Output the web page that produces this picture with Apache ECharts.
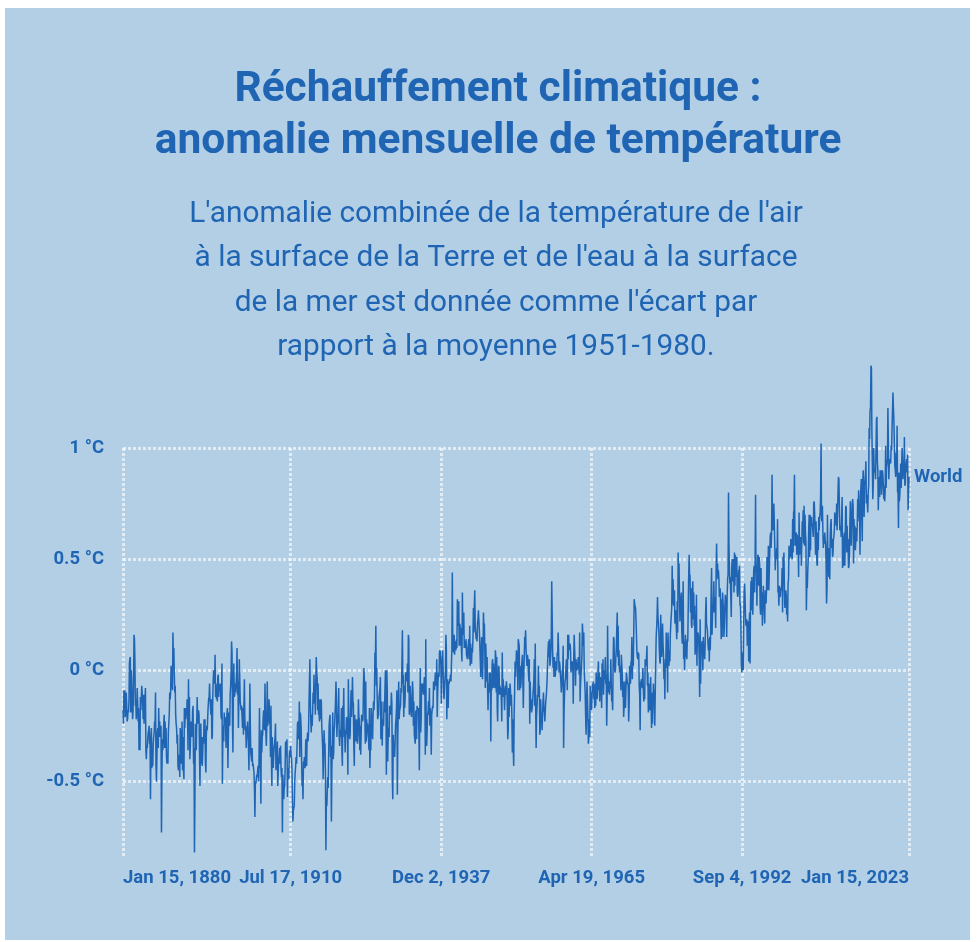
<!DOCTYPE html>
<html><head><meta charset="utf-8">
<script src="https://cdn.jsdelivr.net/npm/echarts@6/dist/echarts.min.js"></script>
<style>
html,body{margin:0;padding:0;background:#ffffff;}
#panel{position:absolute;left:5px;top:8px;width:965px;height:932px;background:#b3cfe6;}
#c{position:absolute;left:0;top:0;width:980px;height:942px;}
</style>
</head><body><div id="panel"></div><div id="c"></div>
<script>
// Monthly anomalies (°C), one row per year, Jan..Dec
const d1880s = [
-0.18,-0.24,-0.09,-0.16,-0.09,-0.21,-0.18,-0.10,-0.15,-0.23,-0.22,-0.18,
-0.19,-0.14,0.03,0.05,0.06,-0.19,0.00,-0.04,-0.16,-0.22,-0.18,-0.07,
0.16,0.14,0.05,-0.16,-0.14,-0.22,-0.16,-0.08,-0.15,-0.23,-0.17,-0.36,
-0.29,-0.36,-0.12,-0.18,-0.18,-0.07,-0.07,-0.14,-0.22,-0.11,-0.24,-0.11,
-0.13,-0.08,-0.36,-0.40,-0.34,-0.35,-0.31,-0.28,-0.27,-0.25,-0.33,-0.30,
-0.58,-0.29,-0.26,-0.44,-0.41,-0.43,-0.33,-0.30,-0.28,-0.23,-0.24,-0.10,
-0.43,-0.50,-0.40,-0.28,-0.26,-0.35,-0.17,-0.30,-0.23,-0.27,-0.30,-0.25,
-0.73,-0.45,-0.31,-0.36,-0.30,-0.24,-0.20,-0.35,-0.23,-0.35,-0.26,-0.39,
-0.42,-0.38,-0.42,-0.28,-0.28,-0.20,-0.10,-0.13,-0.10,0.02,-0.04,-0.06,
-0.09,0.17,0.06,0.10,-0.01,-0.10,-0.07,-0.20,-0.24,-0.26,-0.33,-0.29];
const d1890s = [
-0.43,-0.45,-0.41,-0.38,-0.48,-0.26,-0.29,-0.42,-0.37,-0.23,-0.45,-0.30,
-0.45,-0.49,-0.17,-0.26,-0.17,-0.22,-0.18,-0.20,-0.13,-0.22,-0.36,-0.04,
-0.27,-0.12,-0.40,-0.34,-0.25,-0.23,-0.30,-0.26,-0.18,-0.16,-0.42,-0.35,
-0.82,-0.56,-0.24,-0.32,-0.36,-0.23,-0.12,-0.24,-0.24,-0.18,-0.20,-0.37,
-0.52,-0.33,-0.24,-0.42,-0.30,-0.43,-0.38,-0.30,-0.33,-0.22,-0.28,-0.22,
-0.42,-0.46,-0.29,-0.25,-0.27,-0.21,-0.16,-0.13,-0.12,-0.06,-0.13,-0.13,
-0.20,-0.13,-0.31,-0.30,-0.12,-0.04,0.00,-0.04,-0.06,0.07,-0.12,-0.06,
-0.13,-0.11,-0.14,-0.03,-0.02,-0.12,-0.07,-0.09,-0.06,-0.07,-0.20,-0.22,
0.03,-0.51,-0.30,-0.25,-0.32,-0.19,-0.24,-0.21,-0.25,-0.35,-0.35,-0.19,
-0.17,-0.44,-0.31,-0.19,-0.23,-0.25,-0.11,-0.07,-0.01,0.13,0.08,-0.23];
const d1900s = [
-0.37,-0.10,0.03,-0.12,-0.11,-0.06,-0.10,-0.06,-0.01,0.10,-0.11,-0.05,
-0.26,-0.10,0.05,-0.04,-0.14,-0.16,-0.18,-0.16,-0.21,-0.26,-0.17,-0.29,
-0.16,-0.04,-0.21,-0.27,-0.25,-0.35,-0.26,-0.29,-0.23,-0.30,-0.35,-0.45,
-0.25,-0.06,-0.24,-0.37,-0.37,-0.41,-0.35,-0.43,-0.42,-0.44,-0.46,-0.53,
-0.66,-0.50,-0.51,-0.51,-0.47,-0.48,-0.45,-0.43,-0.50,-0.40,-0.17,-0.44,
-0.38,-0.60,-0.27,-0.37,-0.30,-0.29,-0.22,-0.18,-0.20,-0.27,-0.06,-0.19,
-0.29,-0.34,-0.25,-0.05,-0.25,-0.21,-0.20,-0.13,-0.24,-0.21,-0.39,-0.16,
-0.38,-0.52,-0.30,-0.37,-0.44,-0.39,-0.35,-0.33,-0.30,-0.24,-0.45,-0.40,
-0.42,-0.32,-0.52,-0.45,-0.40,-0.39,-0.35,-0.42,-0.34,-0.44,-0.48,-0.44,
-0.73,-0.47,-0.53,-0.58,-0.53,-0.52,-0.44,-0.32,-0.38,-0.39,-0.31,-0.57];
const d1910s = [
-0.44,-0.45,-0.49,-0.39,-0.36,-0.39,-0.34,-0.38,-0.40,-0.45,-0.59,-0.68,
-0.63,-0.63,-0.61,-0.50,-0.46,-0.43,-0.39,-0.42,-0.34,-0.24,-0.23,-0.31,
-0.28,-0.14,-0.39,-0.19,-0.21,-0.26,-0.40,-0.52,-0.50,-0.58,-0.41,-0.43,
-0.39,-0.44,-0.43,-0.31,-0.38,-0.43,-0.31,-0.28,-0.32,-0.29,-0.16,-0.06,
0.05,-0.13,-0.22,-0.28,-0.20,-0.25,-0.20,-0.10,-0.15,-0.02,-0.12,-0.11,
-0.20,-0.04,0.06,-0.01,-0.04,-0.18,-0.06,-0.20,-0.19,-0.23,-0.13,-0.22,
-0.13,-0.14,-0.25,-0.30,-0.35,-0.49,-0.38,-0.27,-0.34,-0.33,-0.46,-0.81,
-0.57,-0.61,-0.61,-0.48,-0.53,-0.39,-0.25,-0.22,-0.20,-0.39,-0.34,-0.68,
-0.45,-0.32,-0.19,-0.40,-0.37,-0.27,-0.25,-0.25,-0.14,-0.05,-0.13,-0.30,
-0.23,-0.24,-0.19,-0.08,-0.29,-0.34,-0.27,-0.30,-0.26,-0.17,-0.37,-0.43];
const d1920s = [
-0.16,-0.22,-0.08,-0.30,-0.27,-0.37,-0.29,-0.27,-0.21,-0.25,-0.30,-0.47,
-0.04,-0.21,-0.21,-0.31,-0.29,-0.17,-0.09,-0.21,-0.14,-0.03,-0.14,-0.15,
-0.35,-0.43,-0.20,-0.26,-0.32,-0.30,-0.22,-0.29,-0.33,-0.29,-0.13,-0.21,
-0.22,-0.36,-0.25,-0.38,-0.29,-0.20,-0.21,-0.23,-0.22,-0.06,0.01,-0.04,
-0.20,-0.33,-0.05,-0.32,-0.22,-0.26,-0.24,-0.29,-0.31,-0.36,-0.17,-0.44,
-0.34,-0.36,-0.17,-0.17,-0.26,-0.31,-0.20,-0.14,-0.18,-0.12,0.08,0.02,
0.20,-0.07,0.01,-0.12,-0.22,-0.21,-0.20,-0.12,-0.10,-0.08,-0.03,-0.31,
-0.22,-0.14,-0.34,-0.22,-0.24,-0.25,-0.14,-0.19,-0.08,0.00,-0.06,-0.47,
0.00,-0.09,-0.41,-0.29,-0.26,-0.30,-0.16,-0.18,-0.20,-0.17,-0.10,-0.15,
-0.49,-0.58,-0.29,-0.36,-0.33,-0.39,-0.33,-0.25,-0.22,-0.18,-0.09,-0.56];
const d1930s = [
-0.30,-0.15,-0.05,-0.22,-0.18,-0.18,-0.16,-0.08,-0.10,-0.10,0.18,-0.06,
-0.02,-0.21,-0.07,-0.17,-0.13,-0.01,-0.02,-0.01,-0.05,0.03,-0.10,0.16,
0.14,-0.20,-0.14,-0.07,-0.16,-0.20,-0.21,-0.12,-0.05,-0.09,-0.25,-0.14,
-0.29,-0.31,-0.33,-0.19,-0.18,-0.31,-0.16,-0.16,-0.18,-0.17,-0.28,-0.45,
-0.19,0.01,-0.28,-0.22,-0.06,-0.10,-0.06,-0.06,-0.11,-0.07,-0.03,-0.06,
-0.38,0.14,-0.24,-0.34,-0.28,-0.20,-0.19,-0.14,-0.20,-0.08,-0.25,-0.17,
-0.21,-0.38,-0.20,-0.18,-0.16,-0.17,-0.05,-0.07,-0.09,-0.05,-0.01,-0.05,
-0.07,0.05,-0.21,-0.11,-0.04,-0.01,-0.03,0.08,0.09,0.08,0.02,-0.15,
0.03,0.05,0.09,0.09,-0.10,-0.13,-0.08,-0.04,0.00,0.16,0.09,-0.22,
-0.04,-0.04,-0.17,-0.05,-0.06,-0.04,-0.05,-0.02,-0.05,0.02,0.09,0.44];
const d1940s = [
0.12,0.09,0.08,0.16,0.07,0.13,0.10,0.09,0.14,0.10,0.32,0.20,
0.21,0.31,0.11,0.21,0.20,0.11,0.19,0.09,0.04,0.35,0.17,0.16,
0.26,0.10,0.13,0.12,0.10,0.14,0.07,0.06,0.05,0.10,0.12,0.14,
0.05,0.20,0.02,0.12,0.08,0.03,0.10,0.08,0.14,0.28,0.17,0.29,
0.36,0.20,0.17,0.14,0.15,0.13,0.21,0.23,0.27,0.27,0.18,0.12,
0.12,-0.03,0.06,0.15,0.04,-0.04,0.05,0.26,0.19,0.21,0.07,-0.08,
0.12,0.05,-0.05,0.06,-0.08,-0.18,-0.06,-0.10,-0.01,-0.05,-0.01,-0.32,
-0.08,-0.09,0.03,0.05,-0.08,0.03,-0.04,-0.04,-0.08,0.09,0.06,-0.10,
0.06,-0.17,-0.23,-0.07,0.02,0.01,-0.11,-0.07,-0.09,-0.08,-0.13,-0.23,
0.08,-0.12,-0.04,-0.08,-0.09,-0.18,-0.11,-0.07,-0.11,-0.05,-0.07,-0.16];
const d1950s = [
-0.31,-0.27,-0.08,-0.21,-0.11,-0.06,-0.09,-0.16,-0.11,-0.20,-0.37,-0.22,
-0.35,-0.43,-0.20,-0.10,0.04,-0.03,0.02,0.09,0.05,0.08,-0.09,0.14,
0.14,0.11,-0.09,0.02,-0.08,-0.06,0.00,0.04,0.07,-0.04,-0.17,-0.03,
0.06,0.15,0.12,0.18,0.09,0.09,0.02,0.07,0.05,0.05,-0.05,0.05,
-0.24,-0.05,-0.15,-0.13,-0.19,-0.19,-0.16,-0.11,-0.08,-0.04,0.05,-0.16,
0.12,-0.18,-0.35,-0.21,-0.21,-0.11,-0.12,0.02,-0.11,-0.07,-0.29,-0.27,
-0.13,-0.23,-0.20,-0.27,-0.20,-0.14,-0.10,-0.17,-0.19,-0.23,-0.18,-0.14,
-0.12,-0.08,-0.04,0.03,0.09,0.13,0.06,0.14,0.02,0.04,0.07,0.15,
0.40,0.24,0.09,0.01,0.06,-0.03,0.06,-0.03,-0.02,0.04,0.01,0.00,
0.08,0.07,0.17,0.10,-0.01,0.04,0.02,-0.02,-0.05,-0.10,-0.07,0.00];
const d1960s = [
-0.01,0.11,-0.35,-0.18,-0.11,-0.05,-0.04,0.01,0.05,0.00,-0.09,0.16,
0.05,0.16,0.09,0.11,0.12,0.10,-0.01,-0.01,0.04,0.00,0.04,-0.15,
0.05,0.16,0.10,0.04,-0.07,0.05,0.02,0.00,0.01,0.03,0.06,0.03,
-0.02,0.17,-0.14,-0.06,-0.06,0.02,0.07,0.21,0.16,0.11,0.17,0.00,
-0.05,-0.10,-0.20,-0.29,-0.19,-0.05,-0.05,-0.20,-0.33,-0.30,-0.22,-0.30,
-0.07,-0.17,-0.10,-0.18,-0.12,-0.06,-0.10,-0.05,-0.13,-0.07,-0.17,-0.06,
-0.16,-0.01,-0.01,-0.13,-0.11,-0.01,0.04,-0.09,-0.01,-0.14,-0.03,-0.06,
-0.05,-0.17,0.03,-0.04,0.05,-0.11,-0.05,0.00,-0.04,0.06,-0.06,-0.02,
-0.25,-0.13,0.20,-0.02,-0.10,-0.05,-0.11,-0.06,-0.08,0.05,-0.06,-0.14,
-0.12,-0.18,0.02,0.15,0.14,0.02,-0.01,0.00,0.06,0.10,0.10,0.26];
const d1970s = [
0.06,0.20,0.02,0.09,-0.01,0.02,0.01,-0.09,0.07,0.07,-0.02,-0.12,
-0.05,-0.21,-0.17,-0.09,-0.05,-0.17,-0.10,-0.01,-0.03,-0.05,-0.06,-0.07,
-0.23,-0.16,0.02,0.01,-0.06,0.04,0.03,0.15,-0.04,0.07,0.02,0.16,
0.32,0.30,0.29,0.28,0.23,0.16,0.08,0.06,0.05,0.08,0.07,-0.07,
-0.11,-0.27,-0.06,-0.05,-0.04,-0.07,-0.08,0.01,-0.08,-0.14,-0.10,-0.13,
0.05,0.02,0.03,0.06,0.11,-0.07,-0.01,-0.19,-0.06,-0.12,-0.18,-0.18,
-0.03,-0.16,-0.26,-0.10,-0.24,-0.16,-0.06,-0.12,-0.09,-0.25,-0.10,0.03,
0.15,0.19,0.24,0.33,0.24,0.21,0.17,0.09,0.04,0.03,0.25,0.08,
0.06,0.12,0.21,0.12,0.07,-0.04,0.03,-0.13,0.05,0.01,0.17,0.10,
0.09,-0.10,0.17,0.06,0.02,0.09,0.04,0.16,0.21,0.21,0.28,0.47];
const d1980s = [
0.30,0.41,0.29,0.33,0.36,0.21,0.27,0.26,0.19,0.14,0.31,0.17,
0.53,0.42,0.48,0.32,0.22,0.30,0.32,0.35,0.17,0.12,0.23,0.40,
0.05,0.13,0.00,0.08,0.16,0.06,0.13,0.05,0.14,0.13,0.13,0.42,
0.52,0.42,0.43,0.26,0.37,0.21,0.19,0.34,0.40,0.23,0.35,0.20,
0.29,0.07,0.25,0.08,0.34,0.02,0.16,0.17,0.16,0.13,0.05,-0.12,
0.23,-0.06,0.09,0.08,0.13,0.11,0.00,0.15,0.09,0.10,0.05,0.12,
0.26,0.33,0.21,0.21,0.18,0.13,0.09,0.14,0.04,0.15,0.09,0.17,
0.34,0.46,0.16,0.25,0.28,0.30,0.40,0.26,0.33,0.30,0.19,0.46,
0.57,0.41,0.48,0.43,0.45,0.41,0.33,0.37,0.36,0.36,0.14,0.32,
0.15,0.35,0.35,0.27,0.15,0.20,0.28,0.34,0.34,0.30,0.15,0.33];
const d1990s = [
0.41,0.43,0.80,0.56,0.45,0.39,0.42,0.33,0.24,0.46,0.50,0.40,
0.41,0.50,0.35,0.53,0.38,0.52,0.46,0.42,0.51,0.35,0.33,0.34,
0.45,0.44,0.47,0.29,0.30,0.21,0.03,-0.01,0.08,0.06,0.00,0.18,
0.35,0.39,0.34,0.25,0.20,0.22,0.23,0.11,0.11,0.22,0.04,0.20,
0.26,0.03,0.29,0.40,0.27,0.42,0.32,0.25,0.36,0.45,0.47,0.35,
0.49,0.79,0.44,0.47,0.29,0.45,0.52,0.51,0.38,0.51,0.47,0.29,
0.25,0.46,0.27,0.35,0.20,0.27,0.38,0.29,0.32,0.21,0.36,0.35,
0.30,0.37,0.51,0.36,0.40,0.56,0.36,0.44,0.53,0.60,0.62,0.55,
0.62,0.88,0.64,0.63,0.68,0.75,0.66,0.66,0.45,0.51,0.50,0.55,
0.50,0.68,0.35,0.36,0.29,0.38,0.37,0.33,0.37,0.36,0.37,0.46];
const d2000s = [
0.26,0.51,0.50,0.53,0.37,0.28,0.34,0.36,0.34,0.25,0.30,0.22,
0.39,0.41,0.56,0.50,0.54,0.51,0.59,0.52,0.51,0.50,0.68,0.53,
0.71,0.72,0.88,0.56,0.60,0.56,0.62,0.52,0.61,0.56,0.57,0.42,
0.71,0.52,0.56,0.53,0.60,0.47,0.58,0.67,0.63,0.72,0.57,0.74,
0.56,0.70,0.62,0.58,0.27,0.40,0.37,0.45,0.50,0.63,0.70,0.51,
0.70,0.54,0.68,0.69,0.65,0.66,0.66,0.60,0.75,0.76,0.71,0.63,
0.52,0.67,0.59,0.48,0.47,0.62,0.54,0.69,0.63,0.69,0.71,0.78,
1.02,0.69,0.67,0.74,0.63,0.55,0.60,0.57,0.62,0.59,0.57,0.48,
0.30,0.37,0.70,0.48,0.47,0.42,0.55,0.41,0.60,0.66,0.68,0.55,
0.59,0.51,0.52,0.59,0.60,0.63,0.71,0.66,0.70,0.65,0.75,0.63];
const d2010s = [
0.71,0.80,0.87,0.86,0.74,0.63,0.64,0.65,0.60,0.69,0.78,0.46,
0.49,0.47,0.60,0.62,0.47,0.63,0.74,0.73,0.53,0.65,0.56,0.59,
0.46,0.47,0.52,0.67,0.76,0.61,0.56,0.65,0.75,0.77,0.74,0.48,
0.68,0.54,0.65,0.54,0.59,0.64,0.58,0.65,0.77,0.69,0.81,0.67,
0.74,0.52,0.78,0.78,0.86,0.68,0.58,0.84,0.90,0.82,0.69,0.83,
0.85,0.89,0.94,0.75,0.79,0.79,0.71,0.80,0.83,1.09,1.04,1.17,
1.18,1.37,1.36,1.08,0.93,0.77,0.83,1.00,0.89,0.90,0.91,0.86,
1.00,1.13,1.14,0.94,0.90,0.72,0.83,0.87,0.78,0.90,0.86,0.90,
0.79,0.86,0.90,0.88,0.83,0.77,0.83,0.76,0.81,1.01,0.82,0.91,
0.93,0.95,1.18,1.02,0.86,0.93,0.94,0.95,0.93,1.01,0.99,1.09];
const d2020s = [
1.17,1.25,1.18,1.13,1.02,0.92,0.90,0.87,0.98,0.88,1.10,0.80,
0.82,0.64,0.89,0.76,0.79,0.84,0.93,0.82,0.92,1.00,0.94,0.86,
0.91,0.89,1.05,0.83,0.84,0.92,0.93,0.95,0.89,0.97,0.72,0.80,
0.87];

const firstYear = 1880;
const seriesName = 'World';
const xTickDates = [[1880,0,15],[1910,6,17],[1937,11,2],[1965,3,19],[1992,8,4],[2023,0,15]];
const yTicks = [-0.5, 0, 0.5, 1];
const monthNames = ['Jan','Feb','Mar','Apr','May','Jun','Jul','Aug','Sep','Oct','Nov','Dec'];
const titleLines = ['Réchauffement climatique :', 'anomalie mensuelle de température'];
const subtitleLines = [
  "L'anomalie combinée de la température de l'air",
  "à la surface de la Terre et de l'eau à la surface",
  "de la mer est donnée comme l'écart par",
  "rapport à la moyenne 1951-1980."
];

const values = [].concat(d1880s,d1890s,d1900s,d1910s,d1920s,d1930s,d1940s,d1950s,d1960s,d1970s,d1980s,d1990s,d2000s,d2010s,d2020s);
const data = values.map((v, i) => [Date.UTC(firstYear + Math.floor(i / 12), i % 12, 15), v]);
const xTicks = xTickDates.map(d => Date.UTC(d[0], d[1], d[2]));

const BLUE = '#1f65b3';
const FONT = 'Roboto';

const chart = echarts.init(document.getElementById('c'), null, {renderer: 'canvas'});
chart.setOption({
  animation: false,
  backgroundColor: 'transparent',
  graphic: [
    {type: 'text', x: 498, y: 116, style: {text: titleLines.join('\n'), fontFamily: FONT, fontWeight: 'bold', fontSize: 42.5, lineHeight: 52, fill: BLUE, align: 'center', verticalAlign: 'middle', textAlign: 'center', textVerticalAlign: 'middle'}},
    {type: 'text', x: 496, y: 281, style: {text: subtitleLines.join('\n'), fontFamily: FONT, fontWeight: 'normal', fontSize: 29.8, lineHeight: 44.3, fill: BLUE, align: 'center', verticalAlign: 'middle', textAlign: 'center', textVerticalAlign: 'middle'}}
  ],
  grid: {left: 123, right: 71, top: 448, bottom: 85, containLabel: false, outerBoundsMode: 'none'},
  xAxis: {
    type: 'value', min: xTicks[0], max: xTicks[xTicks.length - 1],
    axisLine: {show: false},
    axisTick: {show: false, customValues: xTicks},
    axisLabel: {
      customValues: xTicks, alignMinLabel: 'left', alignMaxLabel: 'right',
      margin: 12, color: BLUE, fontFamily: FONT, fontWeight: 'bold', fontSize: 18.5,
      formatter: v => { const d = new Date(v); return monthNames[d.getUTCMonth()] + ' ' + d.getUTCDate() + ', ' + d.getUTCFullYear(); }
    },
    splitLine: {show: true, lineStyle: {color: 'rgba(255,255,255,0.6)', width: 3, type: [3, 2]}}
  },
  yAxis: {
    type: 'value', min: -0.84, max: 1,
    axisLine: {show: false},
    axisTick: {show: false, customValues: yTicks},
    axisLabel: {customValues: yTicks, margin: 19, color: BLUE, fontFamily: FONT, fontWeight: 'bold', fontSize: 18.5, formatter: v => v + ' °C'},
    splitLine: {show: true, lineStyle: {color: 'rgba(255,255,255,0.6)', width: 3, type: [3, 2]}}
  },
  series: [{
    name: seriesName, type: 'line', data: data, showSymbol: false, symbol: 'none', clip: false, silent: true,
    lineStyle: {color: BLUE, width: 1.5}, itemStyle: {color: BLUE},
    endLabel: {show: true, formatter: seriesName, color: BLUE, fontFamily: FONT, fontWeight: 'bold', fontSize: 18.5, distance: 5}
  }]
});
</script>
</body></html>
